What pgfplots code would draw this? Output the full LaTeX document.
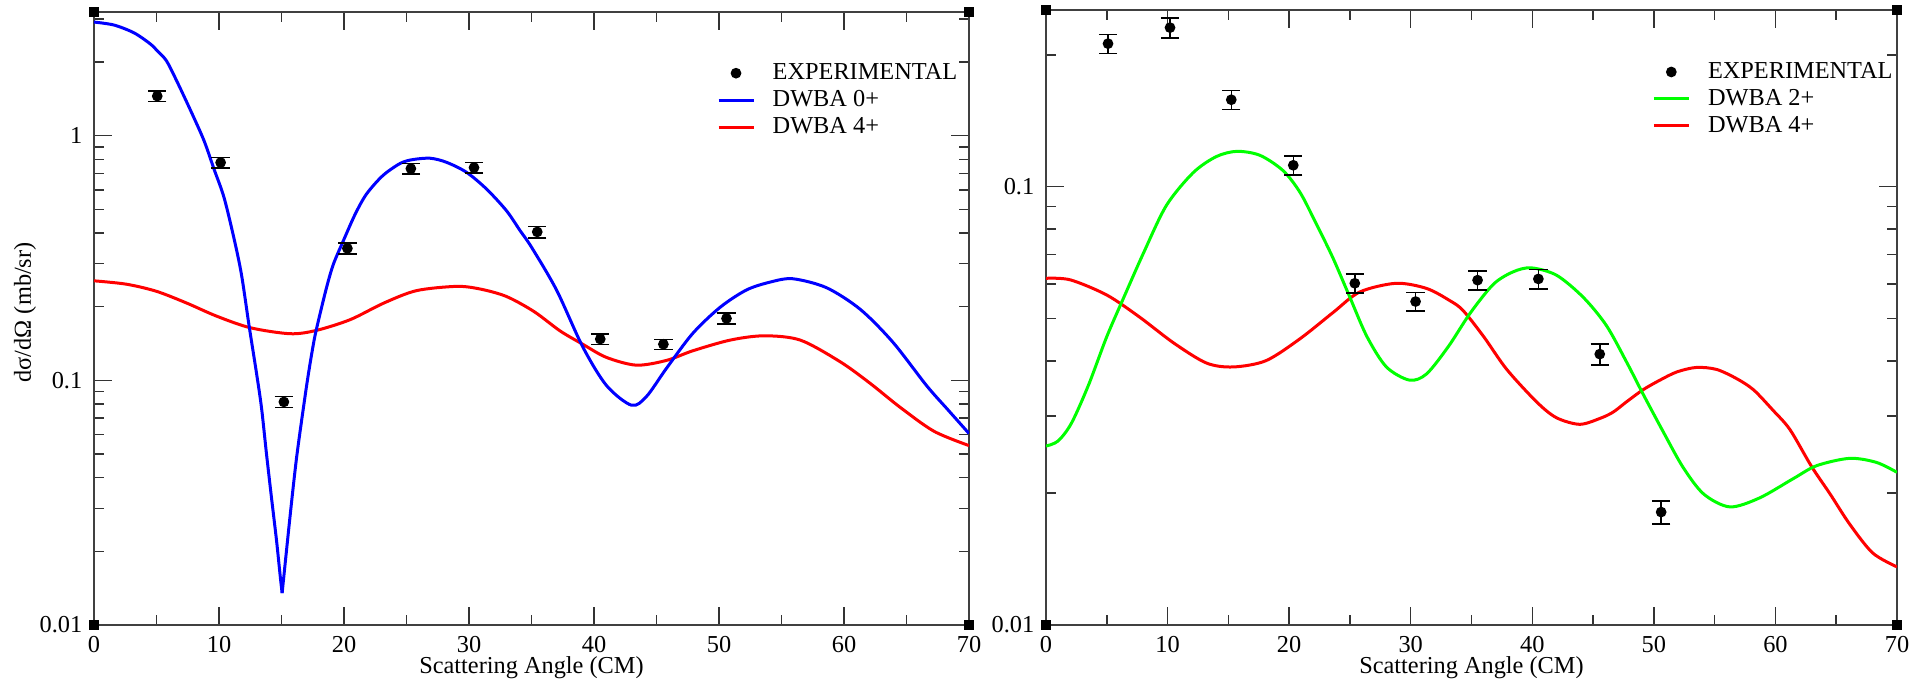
\documentclass[border=0pt]{standalone}
\usepackage{fontspec}
\setmainfont{Liberation Serif}
\usepackage{pgfplots}
\usepackage{pgfplotstable}
\pgfplotsset{compat=1.18}

\definecolor{gblue}{RGB}{0,0,255}
\definecolor{gred}{RGB}{255,0,0}
\definecolor{ggreen}{RGB}{0,255,0}

% measured cross sections (angle, value, error)
\pgfplotstableread{
x y e
5.06 1.45 0.07
10.13 0.776 0.039
15.19 0.0816 0.0043
20.27 0.346 0.018
25.35 0.733 0.036
30.40 0.740 0.038
35.46 0.404 0.022
40.50 0.1474 0.0075
45.55 0.1404 0.0066
50.60 0.179 0.009
}\expA
\pgfplotstableread{
x y e
5.10 0.212 0.0107
10.20 0.2306 0.012
15.24 0.1579 0.008
20.34 0.1119 0.0057
25.40 0.0602 0.003
30.40 0.0547 0.0027
35.50 0.0612 0.0031
40.50 0.0616 0.0031
45.55 0.0415 0.0023
50.60 0.0181 0.0011
}\expB

% DWBA 0+ (split at the deep minimum)
\pgfplotstableread{
x y
0 2.91
1.6 2.83
3.2 2.63
4.5 2.37
5.1 2.21
5.8 2.02
6.6 1.68
7.73 1.266
8.8 0.954
9.6 0.73
10.4 0.559
11.2 0.38
11.8 0.27
12.4 0.168
13.0 0.107
13.4 0.0773
13.8 0.050
14.2 0.0331
14.6 0.0222
14.9 0.0158
15.05 0.0135
}\zeroA
\pgfplotstableread{
x y
15.05 0.0135
15.7 0.0283
16.2 0.048
16.75 0.077
17.15 0.106
17.6 0.145
17.95 0.175
18.6 0.239
19.15 0.298
19.95 0.372
20.9 0.478
21.8 0.577
23.1 0.686
24.5 0.770
25.5 0.798
26.9 0.808
28.2 0.778
29.8 0.708
31.4 0.605
33.0 0.493
34.1 0.408
35.0 0.350
37.0 0.234
39.1 0.137
41.0 0.0952
43.0 0.0791
44.2 0.0859
45.8 0.112
47.9 0.1555
50.1 0.199
52.2 0.234
54.1 0.252
55.9 0.260
58.6 0.239
61.3 0.195
63.9 0.1433
66.6 0.0952
68.3 0.0759
70 0.0606
}\zeroB

% DWBA 4+ (left panel)
\pgfplotstableread{
x y
0 0.255
2.6 0.247
5.0 0.231
7.4 0.207
9.8 0.183
12.5 0.164
15.7 0.155
17.8 0.160
20.5 0.177
23.2 0.207
25.8 0.2325
29.0 0.242
30.9 0.236
33.0 0.220
35.2 0.191
37.3 0.159
39.1 0.1404
41.0 0.124
43.4 0.1153
45.8 0.1206
47.9 0.132
50.9 0.146
53.6 0.152
56.5 0.146
59.7 0.119
62.1 0.0971
64.5 0.0775
67.2 0.0619
70 0.0541
}\fourA

% DWBA 2+
\pgfplotstableread{
x y
0 0.0256
1.0 0.0263
2.1 0.0289
3.5 0.0353
5.0 0.0455
6.4 0.0559
8.0 0.0704
9.9 0.0906
12.1 0.1076
14.0 0.1171
15.7 0.1204
17.6 0.1179
19.5 0.1088
20.9 0.0970
22.2 0.0826
23.6 0.0688
25.0 0.0559
26.4 0.0455
28.0 0.0388
29.9 0.0362
31.3 0.0374
33.1 0.0432
34.9 0.0515
36.8 0.0599
38.4 0.0639
39.9 0.0653
42.0 0.0628
44.2 0.0559
46.1 0.0482
47.8 0.0396
49.1 0.0337
50.8 0.0275
52.4 0.0229
54.1 0.0199
56.25 0.0186
58.7 0.0195
61.5 0.0216
63.4 0.0231
66.1 0.0240
68.3 0.0235
70 0.0223
}\twoB

% DWBA 4+ (right panel)
\pgfplotstableread{
x y
0 0.0618
2.0 0.0613
5.0 0.0566
7.7 0.0504
10.5 0.0440
13.2 0.0396
15.4 0.0388
18.1 0.0401
20.9 0.0450
23.6 0.0516
25.8 0.0575
28.8 0.0602
31.3 0.0586
33.2 0.0550
34.3 0.0522
36.0 0.0455
37.9 0.0383
40.4 0.0322
42.0 0.0297
43.9 0.0287
45.56 0.0296
46.65 0.0306
47.75 0.0323
49.1 0.0344
50.5 0.0362
51.9 0.0378
53.5 0.0387
55.15 0.0383
56.8 0.0365
58.2 0.0344
59.8 0.0309
61.2 0.0279
62.97 0.0230
64.5 0.0199
66.1 0.0170
68.0 0.0146
70 0.01357
}\fourB

\pgfplotsset{
  xsecpanel/.style={
    scale only axis, anchor=south west,
    xmin=0, xmax=70, ymin=0.01,
    xtick={0,10,20,30,40,50,60,70},
    minor xtick={5,15,25,35,45,55,65},
    ytick={0.01,0.1,1},
    minor ytick={0.02,0.03,0.04,0.05,0.06,0.07,0.08,0.09,0.2,0.3,0.4,0.5,0.6,0.7,0.8,0.9,2,3},
    log ticks with fixed point,
    /pgf/number format/assume math mode=true,
    tick align=inside, tick pos=both,
    major tick length=5.5pt, minor tick length=3pt,
    every tick/.style={black!80, line width=0.45pt},
    axis line style={black!75, line width=0.5pt},
    font=\fontsize{7.3}{8.8}\selectfont,
    xlabel={Scattering Angle (CM)},
    xlabel style={at={(axis description cs:0.5,0)}, anchor=base, yshift=-14.4pt},
    legend cell align=left,
    legend style={draw=none, fill=none, inner sep=0pt, outer sep=0pt,
      anchor=north west, column sep=5.3pt, row sep=1.9pt,
      nodes={inner sep=0pt, text height=5pt, text depth=1.2pt}},
  },
}

\begin{document}
\begin{tikzpicture}
\useasboundingbox (0pt,0pt) rectangle (574.5pt,205.5pt);

\begin{axis}[ymode=log, xsecpanel,
  at={(28.2pt,18pt)}, width=262.5pt, height=183.9pt,
  ymax=3.2,
  ylabel={dσ/dΩ (mb/sr)},
  ylabel style={at={(axis description cs:-0.0789,0.51)}, anchor=center},
  legend style={at={(0.712,0.917)}},
  after end axis/.code={
    \fill[black] (rel axis cs:0,0) ++(-1.6pt,-1.6pt) rectangle ++(3.2pt,3.2pt);
    \fill[black] (rel axis cs:1,0) ++(-1.6pt,-1.6pt) rectangle ++(3.2pt,3.2pt);
    \fill[black] (rel axis cs:0,1) ++(-1.6pt,-1.6pt) rectangle ++(3.2pt,3.2pt);
    \fill[black] (rel axis cs:1,1) ++(-1.6pt,-1.6pt) rectangle ++(3.2pt,3.2pt);
  },
]
\addlegendimage{legend image code/.code={\draw[black, only marks, mark=*, mark size=1.4pt] plot coordinates {(5.25pt,0pt)};}}
\addlegendentry{EXPERIMENTAL}
\addlegendimage{legend image code/.code={\draw[gblue, line width=0.9pt] (0pt,0pt) -- (10.5pt,0pt);}}
\addlegendentry{DWBA 0+}
\addlegendimage{legend image code/.code={\draw[gred, line width=0.9pt] (0pt,0pt) -- (10.5pt,0pt);}}
\addlegendentry{DWBA 4+}

\addplot[gred, line width=0.9pt, smooth, no marks, forget plot] table[x=x, y=y] {\fourA};
\addplot[gblue, line width=0.9pt, smooth, no marks, forget plot] table[x=x, y=y] {\zeroA};
\addplot[gblue, line width=0.9pt, smooth, no marks, forget plot] table[x=x, y=y] {\zeroB};
\addplot[black, only marks, mark=*, mark size=1.4pt, forget plot,
  error bars/.cd, y dir=both, y explicit,
  error bar style={line width=0.45pt, black},
  error mark options={rotate=90, line width=0.45pt, mark size=2.75pt, black}]
  table[x=x, y=y, y error=e] {\expA};
\end{axis}

\begin{axis}[ymode=log, xsecpanel,
  at={(313.8pt,18pt)}, width=255.3pt, height=184.5pt,
  ymax=0.253,
  legend style={at={(0.7125,0.916)}},
  after end axis/.code={
    \fill[black] (rel axis cs:0,0) ++(-1.6pt,-1.6pt) rectangle ++(3.2pt,3.2pt);
    \fill[black] (rel axis cs:1,0) ++(-1.6pt,-1.6pt) rectangle ++(3.2pt,3.2pt);
    \fill[black] (rel axis cs:0,1) ++(-1.6pt,-1.6pt) rectangle ++(3.2pt,3.2pt);
    \fill[black] (rel axis cs:1,1) ++(-1.6pt,-1.6pt) rectangle ++(3.2pt,3.2pt);
  },
]
\addlegendimage{legend image code/.code={\draw[black, only marks, mark=*, mark size=1.4pt] plot coordinates {(5.25pt,0pt)};}}
\addlegendentry{EXPERIMENTAL}
\addlegendimage{legend image code/.code={\draw[ggreen, line width=0.9pt] (0pt,0pt) -- (10.5pt,0pt);}}
\addlegendentry{DWBA 2+}
\addlegendimage{legend image code/.code={\draw[gred, line width=0.9pt] (0pt,0pt) -- (10.5pt,0pt);}}
\addlegendentry{DWBA 4+}

\addplot[gred, line width=0.9pt, smooth, no marks, forget plot] table[x=x, y=y] {\fourB};
\addplot[ggreen, line width=0.9pt, smooth, no marks, forget plot] table[x=x, y=y] {\twoB};
\addplot[black, only marks, mark=*, mark size=1.4pt, forget plot,
  error bars/.cd, y dir=both, y explicit,
  error bar style={line width=0.45pt, black},
  error mark options={rotate=90, line width=0.45pt, mark size=2.75pt, black}]
  table[x=x, y=y, y error=e] {\expB};
\end{axis}
\end{tikzpicture}
\end{document}
